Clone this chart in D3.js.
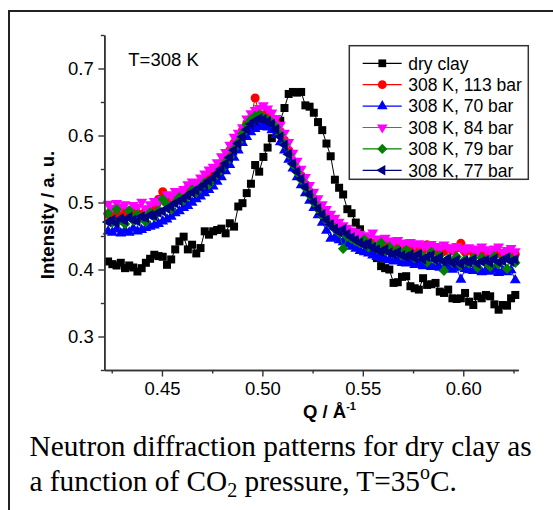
<!DOCTYPE html>
<html><head><meta charset="utf-8">
<script src="https://cdn.jsdelivr.net/npm/d3@7/dist/d3.min.js"></script>
<style>html,body{margin:0;padding:0;background:#fff;overflow:hidden}</style>
</head><body>
<svg id="c" width="553" height="510"></svg>
<script>
// Q grid (Å^-1)
const Q = [0.4232,0.4253,0.4274,0.4295,0.4316,0.4337,0.4357,0.4378,0.4399,0.4420,
0.4441,0.4462,0.4483,0.4504,0.4525,0.4546,0.4566,0.4587,0.4608,0.4629,
0.4650,0.4671,0.4692,0.4713,0.4734,0.4755,0.4775,0.4796,0.4817,0.4838,
0.4859,0.4880,0.4901,0.4922,0.4943,0.4964,0.4984,0.5005,0.5026,0.5047,
0.5068,0.5089,0.5110,0.5131,0.5152,0.5173,0.5193,0.5214,0.5235,0.5256,
0.5277,0.5298,0.5319,0.5340,0.5361,0.5382,0.5402,0.5423,0.5444,0.5465,
0.5486,0.5507,0.5528,0.5549,0.5570,0.5591,0.5611,0.5632,0.5653,0.5674,
0.5695,0.5716,0.5737,0.5758,0.5779,0.5800,0.5820,0.5841,0.5862,0.5883,
0.5904,0.5925,0.5946,0.5967,0.5988,0.6009,0.6029,0.6050,0.6071,0.6092,
0.6113,0.6134,0.6155,0.6176,0.6197,0.6218,0.6238,0.6259];

const dryClay = [.412,.408,.406,.410,.402,.406,.403,.397,.402,.410,
.416,.422,.420,.419,.407,.415,.430,.442,.449,.430,
.437,.424,.432,.457,.452,.457,.459,.461,.454,.469,
.464,.494,.499,.514,.528,.556,.546,.568,.582,.596,
.609,.622,.641,.662,.665,.664,.665,.645,.643,.634,
.620,.608,.588,.569,.534,.522,.512,.490,.484,.470,
.460,.447,.437,.425,.417,.405,.402,.400,.380,.381,
.389,.390,.375,.372,.370,.387,.377,.378,.380,.367,
.365,.370,.357,.356,.357,.365,.352,.347,.360,.357,
.362,.360,.348,.340,.347,.346,.357,.362];

const bar113 = [.482,.486,.479,.488,.483,.480,.487,.484,.482,.489,
.488,.494,.505,.516,.500,.506,.510,.508,.515,.521,
.524,.521,.530,.535,.538,.541,.552,.558,.566,.578,
.589,.598,.608,.618,.626,.656,.632,.630,.637,.626,
.618,.606,.593,.578,.561,.549,.540,.527,.516,.505,
.495,.487,.480,.473,.466,.461,.456,.452,.449,.446,
.444,.441,.443,.439,.437,.440,.436,.434,.437,.433,
.435,.431,.433,.430,.434,.429,.437,.431,.428,.430,
.427,.431,.428,.432,.439,.426,.429,.425,.428,.424,
.427,.423,.426,.424,.422,.425,.421,.423];

const bar70 = [.457,.455,.460,.454,.458,.455,.461,.457,.459,.462,
.464,.466,.468,.472,.475,.479,.484,.487,.492,.495,
.500,.505,.509,.514,.519,.524,.531,.538,.547,.556,
.567,.578,.589,.598,.605,.610,.613,.614,.612,.608,
.601,.590,.578,.564,.551,.538,.526,.514,.503,.492,
.481,.470,.458,.446,.448,.444,.441,.438,.434,.431,
.428,.426,.424,.421,.419,.417,.416,.414,.412,.413,
.410,.409,.411,.407,.408,.405,.407,.404,.406,.403,
.402,.404,.400,.403,.385,.401,.399,.398,.401,.396,
.399,.397,.400,.395,.398,.396,.399,.384];

const bar84 = [.498,.492,.499,.494,.497,.489,.496,.493,.501,.490,
.497,.502,.499,.505,.512,.510,.517,.514,.520,.527,
.531,.528,.537,.543,.549,.553,.560,.569,.575,.586,
.598,.604,.612,.625,.633,.638,.641,.645,.640,.634,
.626,.616,.604,.590,.574,.562,.550,.538,.526,.516,
.506,.497,.490,.483,.477,.471,.466,.462,.458,.456,
.453,.451,.449,.455,.446,.444,.447,.443,.441,.444,
.440,.438,.441,.437,.439,.436,.434,.438,.435,.432,
.437,.433,.430,.435,.432,.429,.433,.431,.428,.434,
.430,.427,.431,.434,.426,.429,.432,.427];

const bar79 = [.484,.470,.490,.474,.468,.488,.473,.482,.477,.471,
.485,.479,.488,.505,.497,.489,.500,.508,.503,.511,
.519,.515,.522,.530,.527,.536,.543,.549,.560,.568,
.580,.590,.603,.616,.624,.629,.631,.627,.624,.619,
.612,.601,.587,.572,.557,.545,.534,.522,.511,.500,
.490,.481,.473,.466,.460,.455,.431,.449,.446,.442,
.439,.445,.433,.436,.431,.440,.428,.434,.424,.430,
.421,.429,.424,.417,.423,.420,.411,.426,.414,.421,
.398,.416,.410,.419,.406,.415,.409,.417,.403,.418,
.412,.404,.420,.408,.414,.401,.416,.410];

const bar77 = [.471,.474,.469,.476,.473,.478,.474,.472,.479,.477,
.481,.480,.485,.487,.491,.494,.499,.502,.506,.510,
.515,.518,.523,.527,.532,.537,.543,.550,.558,.567,
.578,.588,.598,.609,.617,.622,.625,.624,.621,.617,
.609,.598,.586,.572,.558,.546,.535,.523,.512,.501,
.491,.482,.474,.467,.461,.456,.460,.453,.448,.444,
.440,.437,.439,.433,.430,.427,.430,.425,.423,.426,
.421,.419,.422,.417,.423,.415,.419,.421,.414,.418,
.412,.416,.410,.414,.408,.413,.411,.415,.409,.412,
.414,.410,.416,.411,.413,.418,.412,.415];

const seriesNames = ["dry clay","308 K, 113 bar","308 K, 70 bar","308 K, 84 bar","308 K, 79 bar","308 K, 77 bar"];
const seriesValues = [dryClay, bar113, bar70, bar84, bar79, bar77];
const seriesColors = ["#000000","#ff0000","#0000ff","#ff00ff","#008000","#000080"];
const seriesMarkers = ["square","circle","up","down","diamond","left"];

const xMajorTicks = [0.45,0.50,0.55,0.60];
const xMinorTicks = [0.425,0.475,0.525,0.575,0.625];
const yMajorTicks = [0.3,0.4,0.5,0.6,0.7];
const yMinorTicks = [0.25,0.35,0.45,0.55,0.65,0.75];

const svg = d3.select("#c");
const FONT = "'Liberation Sans', Arial, sans-serif";
const SERIF = "'Liberation Serif', 'Times New Roman', serif";

// outer frame
svg.append("rect").attr("x",9).attr("y",11).attr("width",620).attr("height",620)
  .attr("fill","none").attr("stroke","#222").attr("stroke-width",2);

const x = d3.scaleLinear().domain([0.4213,0.6274]).range([104.3,518.3]);
const y = d3.scaleLinear().domain([0.25,0.75]).range([370,35]);

function markerPath(kind, s){
  const sym = d3.symbol();
  if(kind==="square") return {d: sym.type(d3.symbolSquare).size(s)(), r:0};
  if(kind==="circle") return {d: sym.type(d3.symbolCircle).size(s)(), r:0};
  if(kind==="diamond") return {d: sym.type(d3.symbolSquare).size(s*0.85)(), r:45};
  const t = sym.type(d3.symbolTriangle).size(s*0.8)();
  if(kind==="up") return {d:t, r:0};
  if(kind==="down") return {d:t, r:180};
  if(kind==="left") return {d:t, r:-90};
}

const plot = svg.append("g");
seriesValues.forEach((vals, si) => {
  const data = Q.map((q,i)=>({q, v: vals[i]}));
  const g = plot.append("g");
  g.append("path").datum(data)
    .attr("fill","none").attr("stroke",seriesColors[si]).attr("stroke-width",1)
    .attr("d", d3.line().x(d=>x(d.q)).y(d=>y(d.v)));
  const m = markerPath(seriesMarkers[si], 64);
  g.selectAll("path.m").data(data).enter().append("path").attr("class","m")
    .attr("d", m.d)
    .attr("transform", d=>`translate(${x(d.q)},${y(d.v)}) rotate(${m.r})`)
    .attr("fill", seriesColors[si]);
});

// axes
const axisColor = "#333";
function styleAxis(g){
  g.select(".domain").attr("stroke",axisColor).attr("stroke-width",1.6);
  g.selectAll(".tick line").attr("stroke",axisColor).attr("stroke-width",1.4);
  g.selectAll(".tick text").attr("fill","#000").style("font-family",FONT).style("font-size","18.5px");
}
const yAxis = svg.append("g").attr("transform","translate(104.3,0)")
  .call(d3.axisLeft(y).tickValues(yMajorTicks).tickFormat(d3.format(".1f")).tickSize(6).tickSizeOuter(0).tickPadding(4.5));
styleAxis(yAxis);
const yMinor = svg.append("g").attr("transform","translate(104.3,0)")
  .call(d3.axisLeft(y).tickValues(yMinorTicks).tickFormat("").tickSize(3.5).tickSizeOuter(0));
styleAxis(yMinor);
const xAxis = svg.append("g").attr("transform","translate(0,370)")
  .call(d3.axisBottom(x).tickValues(xMajorTicks).tickFormat(d3.format(".2f")).tickSize(6.5).tickSizeOuter(0).tickPadding(5.5));
styleAxis(xAxis);
const xMinor = svg.append("g").attr("transform","translate(0,370)")
  .call(d3.axisBottom(x).tickValues(xMinorTicks).tickFormat("").tickSize(3.5).tickSizeOuter(0));
styleAxis(xMinor);

// axis titles
svg.append("text").attr("transform","translate(53.5,215) rotate(-90)")
  .attr("text-anchor","middle").style("font-family",FONT).style("font-size","18.5px")
  .style("font-weight","bold").text("Intensity / a. u.");
const xt = svg.append("text").attr("x",303).attr("y",418)
  .style("font-family",FONT).style("font-size","18.5px").style("font-weight","bold");
xt.append("tspan").text("Q / Å");
xt.append("tspan").attr("dy",-8).style("font-size","11px").text("-1");

// annotation
svg.append("text").attr("x",128.3).attr("y",66).style("font-family",FONT)
  .style("font-size","18.5px").text("T=308 K");

// legend
const lg = svg.append("g");
lg.append("rect").attr("x",349.3).attr("y",45.7).attr("width",179).attr("height",133.6)
  .attr("fill","#fff").attr("stroke","#333").attr("stroke-width",1.5);
seriesNames.forEach((name, i) => {
  const cy = 63.3 + i*21.4;
  lg.append("line").attr("x1",362.7).attr("x2",401.7).attr("y1",cy).attr("y2",cy)
    .attr("stroke",seriesColors[i]).attr("stroke-width",1.2);
  const m = markerPath(seriesMarkers[i], 60);
  lg.append("path").attr("d",m.d).attr("transform",`translate(382.3,${cy}) rotate(${m.r})`)
    .attr("fill",seriesColors[i]);
  lg.append("text").attr("x",408.3).attr("y",cy+6.2).style("font-family",FONT)
    .style("font-size","17.5px").text(name);
});

// caption
const cap1 = svg.append("text").attr("x",29.5).attr("y",456).style("font-family",SERIF)
  .style("font-size","29.3px").text("Neutron diffraction patterns for dry clay as");
const cap2 = svg.append("text").attr("x",29.5).attr("y",491).style("font-family",SERIF)
  .style("font-size","29.3px");
cap2.append("tspan").text("a function of CO");
cap2.append("tspan").attr("dy",6).style("font-size","20px").text("2");
cap2.append("tspan").attr("dy",-6).text(" pressure, T=35");
cap2.append("tspan").attr("dy",-12).style("font-size","20px").text("o");
cap2.append("tspan").attr("dy",12).text("C.");
</script>
</body></html>
